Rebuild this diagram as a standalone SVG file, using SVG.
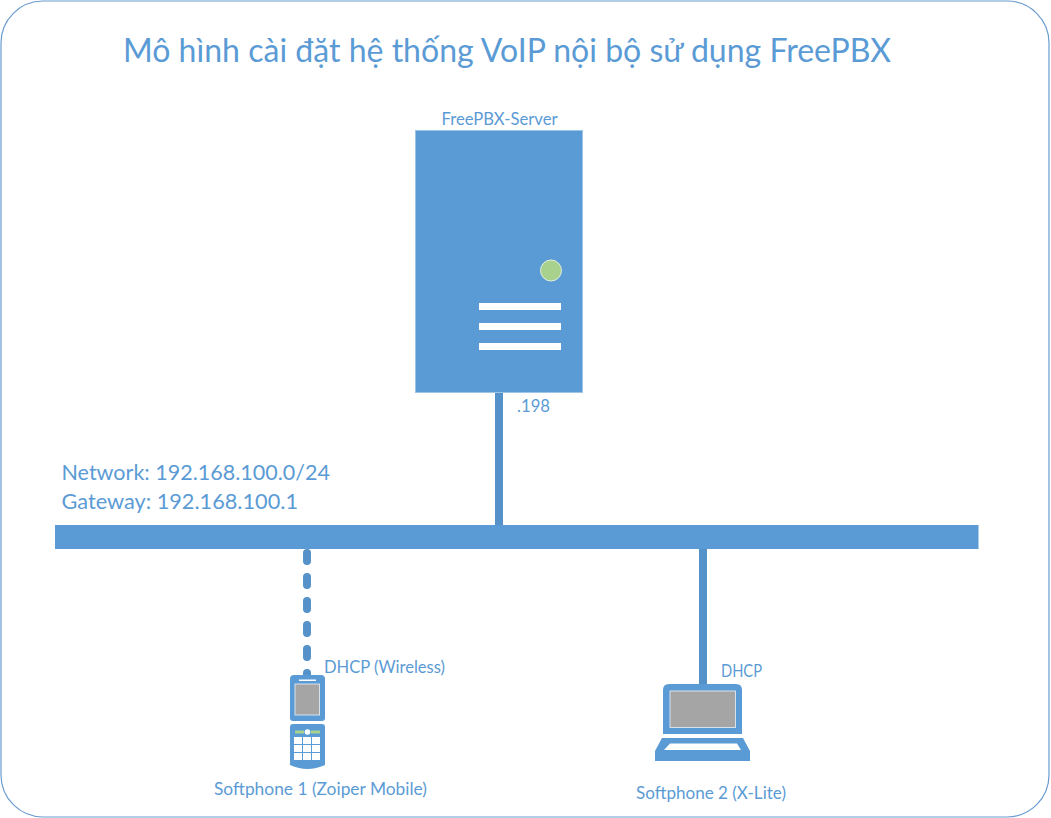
<svg xmlns="http://www.w3.org/2000/svg" width="1051" height="818" viewBox="0 0 1051 818">
<style>
text{font-family:"Lato","Noto Sans","Liberation Sans",sans-serif;fill:#5b9bd5}
.s{font-size:17px}.m{font-size:21px}.t{font-size:33px}
.b{fill:#5b9bd5}.w{fill:#fff}.g{fill:#a5a5a5;stroke:#d6e3ef;stroke-width:1}.l{fill:#a9d18e}
.c{stroke:#5692ca;stroke-width:8;fill:none}
</style>
<rect id="frame" x="1" y="1" width="1048" height="816" rx="42" ry="42" fill="#fff" stroke="#6a9bd0" stroke-width="1.2"/>
<text x="507" y="62" class="t" text-anchor="middle" textLength="768" lengthAdjust="spacingAndGlyphs">Mô hình cài đặt hệ thống VoIP nội bộ sử dụng FreePBX</text>
<g id="connectors">
<path class="c" d="M499 393V525"/>
<path class="c" d="M703 549V684"/>
<path class="c" stroke-linecap="round" stroke-dasharray="8 16" d="M307 553V676"/>
</g>
<g id="bus">
<rect class="b" x="55" y="525" width="923.500" height="24"/>
<text x="61.500" y="480" class="m" textLength="268.500" lengthAdjust="spacingAndGlyphs">Network: 192.168.100.0/24</text>
<text x="61.500" y="509" class="m" textLength="236.500" lengthAdjust="spacingAndGlyphs">Gateway: 192.168.100.1</text>
</g>
<g id="server">
<text x="499.500" y="125" class="s" text-anchor="middle" textLength="116" lengthAdjust="spacingAndGlyphs">FreePBX-Server</text>
<rect class="b" x="415.500" y="130.500" width="167" height="262" stroke="#9dc3e6" stroke-width="1"/>
<circle class="l" cx="551" cy="270.500" r="10.500" stroke="#e2f0d9" stroke-width="1"/>
<rect class="w" x="479" y="303" width="82" height="7"/>
<rect class="w" x="479" y="323" width="82" height="7"/>
<rect class="w" x="479" y="343" width="82" height="7"/>
<text x="517" y="412" class="s" textLength="33" lengthAdjust="spacingAndGlyphs">.198</text>
</g>
<g id="phone">
<path class="b" d="M294 675H321Q325 675 325 679V718Q325 721 322 721H293Q290 721 290 718V679Q290 675 294 675Z"/>
<rect class="w" x="299" y="679.500" width="17" height="1.500"/>
<rect class="g" x="295" y="684" width="24.500" height="31"/>
<path class="b" d="M293 724H322Q325 724 325 727V765Q316 769 307.500 769Q299 769 290 765V727Q290 724 293 724Z"/>
<rect class="l" x="295" y="730.500" width="9" height="3"/>
<rect class="l" x="311" y="730.500" width="9" height="3"/>
<circle class="w" cx="307.500" cy="732" r="2.800"/>
<g class="w">
<rect x="294" y="737" width="8" height="7"/><rect x="303" y="737" width="8" height="7"/><rect x="312" y="737" width="8" height="7"/>
<rect x="294" y="745" width="8" height="7"/><rect x="303" y="745" width="8" height="7"/><rect x="312" y="745" width="8" height="7"/>
<rect x="294" y="753" width="8" height="7"/><rect x="303" y="753" width="8" height="7"/><rect x="312" y="753" width="8" height="7"/>
</g>
<text x="324" y="673" class="s" textLength="121" lengthAdjust="spacingAndGlyphs">DHCP (Wireless)</text>
<text x="214" y="795" class="s" textLength="213" lengthAdjust="spacingAndGlyphs">Softphone 1 (Zoiper Mobile)</text>
</g>
<g id="laptop">
<path class="b" d="M669 684H736Q742 684 742 690V734H663V690Q663 684 669 684Z"/>
<rect class="g" x="670" y="691" width="65.500" height="36.500"/>
<path class="b" fill-rule="evenodd" d="M662 738H743L750 751V761H655V751ZM670 743.500L664 750H741L737 743.500Z"/>
<text x="721" y="677" class="s" textLength="41" lengthAdjust="spacingAndGlyphs">DHCP</text>
<text x="636" y="799" class="s" textLength="150" lengthAdjust="spacingAndGlyphs">Softphone 2 (X-Lite)</text>
</g>
</svg>
